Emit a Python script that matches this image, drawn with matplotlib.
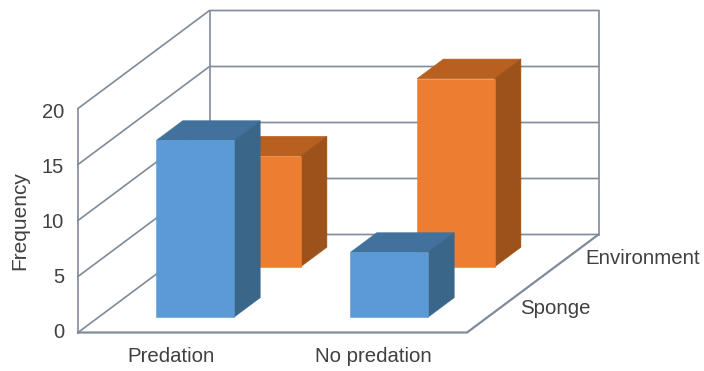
import matplotlib
matplotlib.use('Agg')
import matplotlib.pyplot as plt
from matplotlib.patches import Polygon

plt.rcParams['font.family'] = ['Liberation Sans', 'DejaVu Sans']

categories = ['Predation', 'No predation']
series = ['Sponge', 'Environment']
sponge = [15.8, 5.8]
environment = [9.9, 16.8]
y_ticks = [0, 5, 10, 15, 20]

front_colors = {'Sponge': '#5b9ad5', 'Environment': '#ed7d31'}
top_colors = {'Sponge': '#41719c', 'Environment': '#b8601f'}
side_colors = {'Sponge': '#3a6689', 'Environment': '#9c5219'}

# oblique projection, all in pixels of the final image
X0, Y0 = 78, 332.5
FLOOR_W = 389
DX, DY = 131.5, 98
PX_PER_UNIT = 11.2
BAR_W, BAR_D = 77.5, 0.2
GRID = '#7f8b9a'
TEXT = '#404040'


def project(x, depth, value):
    return (X0 + x + DX * depth, Y0 - DY * depth - PX_PER_UNIT * value)


def draw_bar(ax, x, depth, value, name, z):
    a = project(x, depth, 0)
    b = project(x + BAR_W, depth, 0)
    c = project(x + BAR_W, depth, value)
    d = project(x, depth, value)
    e = project(x + BAR_W, depth + BAR_D, value)
    f = project(x, depth + BAR_D, value)
    g = project(x + BAR_W, depth + BAR_D, 0)
    faces = [([d, c, e, f], top_colors[name]),
             ([b, g, e, c], side_colors[name]),
             ([a, b, c, d], front_colors[name])]
    for pts, col in faces:
        ax.add_patch(Polygon(pts, fc=col, ec=col, lw=0.4, zorder=z))


fig = plt.figure(figsize=(7.04, 3.71), dpi=100)
ax = fig.add_axes([0, 0, 1, 1])
ax.set_xlim(0, 704)
ax.set_ylim(371, 0)
ax.axis('off')

# walls and floor
for v in y_ticks:
    p0, p1, p2 = project(0, 0, v), project(0, 1, v), project(FLOOR_W, 1, v)
    ax.plot([p0[0], p1[0], p2[0]], [p0[1], p1[1], p2[1]], color=GRID, lw=1.2, zorder=1)
    # tick labels sit a little lower than the lines, more so near the top
    ax.text(p0[0] - 14, p0[1] + 0.5 + v * 0.16, str(v), ha='right', va='center',
            fontsize=14.5, color=TEXT)
for x, depth in [(0, 0), (0, 1), (FLOOR_W, 1)]:
    p0, p1 = project(x, depth, 0), project(x, depth, y_ticks[-1])
    ax.plot([p0[0], p1[0]], [p0[1], p1[1]], color=GRID, lw=1.2, zorder=1)
p0, p1, p2 = project(0, 0, 0), project(FLOOR_W, 0, 0), project(FLOOR_W, 1, 0)
ax.plot([p0[0], p1[0], p2[0]], [p0[1], p1[1], p2[1]], color=GRID, lw=1.6, zorder=1)

# back row first so the front row covers it
for i, x in enumerate([57, 251]):
    draw_bar(ax, x, 0.67, environment[i], 'Environment', 2 + i)
for i, x in enumerate([58, 252]):
    draw_bar(ax, x, 0.155, sponge[i], 'Sponge', 5 + i)

for label, x in zip(categories, [171, 373]):
    ax.text(x, 357, label, ha='center', va='center', fontsize=14.7, color=TEXT)
ax.text(555, 309, series[0], ha='center', va='center', fontsize=14.7, color=TEXT)
ax.text(643, 258, series[1], ha='center', va='center', fontsize=14.7, color=TEXT)
ax.text(20, 221, 'Frequency', rotation=90, ha='center', va='center', fontsize=15, color=TEXT)

fig.savefig('out.png', dpi=100)
